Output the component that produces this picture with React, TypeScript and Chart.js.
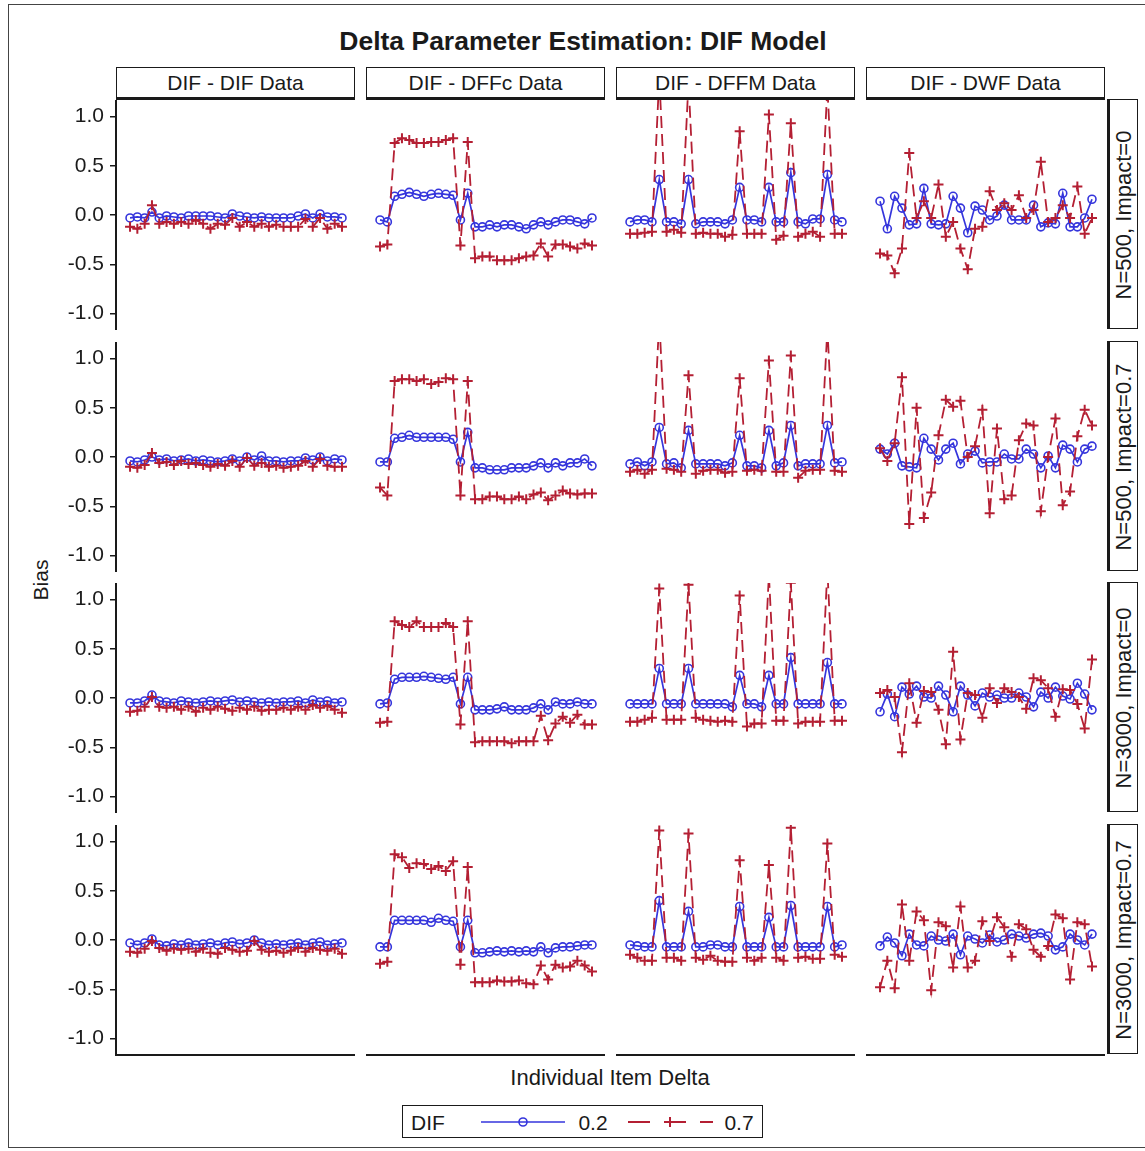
import React, { useEffect, useRef } from "react";
import { Chart, registerables } from "chart.js";

Chart.register(...registerables);

// ---- data -----------------------------------------------------------------

const ITEMS = [1, 2, 3, 4, 5, 6, 7, 8, 9, 10, 11, 12, 13, 14, 15, 16, 17, 18, 19, 20, 21, 22, 23, 24, 25, 26, 27, 28, 29, 30];

const COLUMNS = ["DIF - DIF Data", "DIF - DFFc Data", "DIF - DFFM Data", "DIF - DWF Data"];
const ROWS = ["N=500, Impact=0", "N=500, Impact=0.7", "N=3000, Impact=0", "N=3000, Impact=0.7"];
const Y_TICKS = [-1, -0.5, 0, 0.5, 1];
const LEGEND_TITLE = "DIF";
const SERIES_NAMES = ["0.2", "0.7"];

// N=500, Impact=0
const N500_I0_DIF_02 = [-0.03, -0.02, -0.03, 0.03, -0.03, -0.01, -0.02, -0.03, -0.01, -0.01, -0.01, -0.01, -0.02, -0.03, 0.01, -0.01, -0.02, -0.03, -0.02, -0.03, -0.03, -0.03, -0.03, -0.01, 0.01, -0.03, 0.01, -0.02, -0.02, -0.03];
const N500_I0_DIF_07 = [-0.12, -0.14, -0.09, 0.10, -0.09, -0.07, -0.09, -0.07, -0.09, -0.05, -0.09, -0.14, -0.09, -0.10, -0.03, -0.12, -0.07, -0.12, -0.09, -0.12, -0.10, -0.12, -0.12, -0.12, -0.04, -0.12, -0.03, -0.14, -0.09, -0.12];
const N500_I0_DFFC_02 = [-0.05, -0.07, 0.19, 0.21, 0.23, 0.21, 0.19, 0.21, 0.22, 0.21, 0.20, -0.05, 0.22, -0.12, -0.12, -0.10, -0.12, -0.10, -0.10, -0.12, -0.14, -0.10, -0.07, -0.10, -0.07, -0.05, -0.05, -0.07, -0.09, -0.03];
const N500_I0_DFFC_07 = [-0.32, -0.30, 0.73, 0.78, 0.76, 0.73, 0.73, 0.74, 0.74, 0.76, 0.78, -0.31, 0.74, -0.44, -0.42, -0.42, -0.46, -0.46, -0.46, -0.44, -0.42, -0.41, -0.29, -0.42, -0.30, -0.30, -0.32, -0.34, -0.29, -0.31];
const N500_I0_DFFM_02 = [-0.07, -0.05, -0.05, -0.07, 0.36, -0.07, -0.07, -0.09, 0.36, -0.09, -0.07, -0.07, -0.07, -0.09, -0.05, 0.28, -0.05, -0.05, -0.07, 0.28, -0.07, -0.07, 0.43, -0.07, -0.09, -0.04, -0.04, 0.41, -0.05, -0.07];
const N500_I0_DFFM_07 = [-0.19, -0.19, -0.18, -0.17, 1.40, -0.17, -0.15, -0.18, 1.35, -0.19, -0.18, -0.19, -0.19, -0.22, -0.20, 0.85, -0.19, -0.19, -0.19, 1.02, -0.25, -0.21, 0.93, -0.22, -0.19, -0.17, -0.22, 1.30, -0.19, -0.19];
const N500_I0_DWF_02 = [0.14, -0.14, 0.19, 0.07, -0.10, -0.09, 0.27, -0.09, -0.10, -0.09, 0.19, 0.07, -0.18, 0.09, 0.05, -0.05, -0.01, 0.10, -0.05, -0.05, -0.05, 0.10, -0.12, -0.08, -0.09, 0.22, -0.12, -0.12, -0.03, 0.16];
const N500_I0_DWF_07 = [-0.39, -0.41, -0.59, -0.34, 0.63, -0.03, 0.14, -0.03, 0.31, -0.22, -0.07, -0.34, -0.55, -0.14, -0.12, 0.24, 0.05, 0.12, 0.05, 0.20, -0.03, 0.05, 0.54, -0.07, -0.03, 0.10, -0.03, 0.29, -0.19, -0.03];

// N=500, Impact=0.7
const N500_I07_DIF_02 = [-0.04, -0.05, -0.03, 0.00, -0.03, -0.02, -0.04, -0.03, -0.02, -0.04, -0.03, -0.04, -0.05, -0.04, -0.02, -0.04, 0.00, -0.03, 0.01, -0.04, -0.04, -0.05, -0.04, -0.04, -0.01, -0.03, 0.00, -0.04, -0.02, -0.03];
const N500_I07_DIF_07 = [-0.10, -0.11, -0.08, 0.04, -0.06, -0.05, -0.08, -0.04, -0.07, -0.06, -0.08, -0.10, -0.07, -0.09, -0.04, -0.10, -0.01, -0.09, -0.06, -0.10, -0.09, -0.11, -0.10, -0.09, -0.04, -0.10, -0.02, -0.09, -0.10, -0.10];
const N500_I07_DFFC_02 = [-0.05, -0.05, 0.19, 0.20, 0.22, 0.20, 0.20, 0.20, 0.20, 0.20, 0.18, -0.05, 0.25, -0.11, -0.11, -0.13, -0.13, -0.13, -0.11, -0.11, -0.11, -0.09, -0.06, -0.11, -0.06, -0.09, -0.06, -0.06, -0.02, -0.09];
const N500_I07_DFFC_07 = [-0.31, -0.39, 0.77, 0.79, 0.79, 0.77, 0.79, 0.74, 0.76, 0.80, 0.79, -0.39, 0.77, -0.43, -0.43, -0.40, -0.40, -0.43, -0.43, -0.40, -0.43, -0.38, -0.36, -0.44, -0.39, -0.34, -0.37, -0.38, -0.37, -0.37];
const N500_I07_DFFM_02 = [-0.07, -0.05, -0.09, -0.05, 0.30, -0.07, -0.06, -0.11, 0.27, -0.07, -0.07, -0.07, -0.07, -0.09, -0.06, 0.22, -0.09, -0.09, -0.11, 0.27, -0.09, -0.06, 0.32, -0.09, -0.07, -0.07, -0.07, 0.32, -0.06, -0.05];
const N500_I07_DFFM_07 = [-0.15, -0.13, -0.17, -0.13, 1.40, -0.12, -0.13, -0.15, 0.83, -0.17, -0.14, -0.13, -0.13, -0.16, -0.15, 0.80, -0.14, -0.13, -0.14, 0.98, -0.15, -0.15, 1.03, -0.21, -0.14, -0.13, -0.13, 1.30, -0.14, -0.15];
const N500_I07_DWF_02 = [0.08, 0.03, 0.14, -0.09, -0.10, -0.11, 0.19, 0.08, -0.03, 0.08, 0.14, -0.07, 0.03, 0.06, -0.06, -0.05, -0.05, 0.03, -0.02, -0.02, 0.08, 0.03, -0.11, 0.01, -0.11, 0.12, 0.08, -0.05, 0.08, 0.11];
const N500_I07_DWF_07 = [0.09, -0.04, 0.14, 0.81, -0.68, 0.50, -0.62, -0.36, 0.22, 0.58, 0.51, 0.57, 0.00, 0.11, 0.48, -0.57, 0.29, -0.43, -0.39, 0.17, 0.34, 0.32, -0.55, 0.00, 0.39, -0.49, -0.35, 0.21, 0.48, 0.32];

// N=3000, Impact=0
const N3000_I0_DIF_02 = [-0.05, -0.05, -0.03, 0.03, -0.03, -0.04, -0.05, -0.03, -0.04, -0.05, -0.04, -0.03, -0.04, -0.03, -0.02, -0.04, -0.03, -0.04, -0.05, -0.04, -0.05, -0.04, -0.04, -0.03, -0.05, -0.02, -0.04, -0.03, -0.05, -0.04];
const N3000_I0_DIF_07 = [-0.14, -0.13, -0.09, 0.01, -0.09, -0.10, -0.09, -0.12, -0.09, -0.14, -0.10, -0.12, -0.09, -0.11, -0.13, -0.10, -0.12, -0.09, -0.13, -0.12, -0.12, -0.10, -0.12, -0.09, -0.12, -0.07, -0.10, -0.08, -0.12, -0.15];
const N3000_I0_DFFC_02 = [-0.06, -0.05, 0.19, 0.21, 0.21, 0.21, 0.22, 0.21, 0.20, 0.19, 0.21, -0.06, 0.21, -0.12, -0.12, -0.12, -0.11, -0.09, -0.12, -0.12, -0.12, -0.10, -0.06, -0.12, -0.04, -0.06, -0.06, -0.04, -0.06, -0.06];
const N3000_I0_DFFC_07 = [-0.25, -0.24, 0.78, 0.74, 0.72, 0.78, 0.72, 0.72, 0.72, 0.76, 0.72, -0.27, 0.78, -0.45, -0.44, -0.44, -0.44, -0.44, -0.46, -0.44, -0.44, -0.44, -0.18, -0.43, -0.26, -0.19, -0.25, -0.17, -0.27, -0.27];
const N3000_I0_DFFM_02 = [-0.06, -0.06, -0.06, -0.06, 0.30, -0.06, -0.06, -0.06, 0.30, -0.06, -0.06, -0.06, -0.06, -0.06, -0.09, 0.23, -0.06, -0.06, -0.09, 0.23, -0.06, -0.06, 0.41, -0.06, -0.06, -0.06, -0.06, 0.36, -0.06, -0.06];
const N3000_I0_DFFM_07 = [-0.24, -0.24, -0.22, -0.20, 1.11, -0.22, -0.22, -0.22, 1.15, -0.20, -0.22, -0.23, -0.24, -0.23, -0.24, 1.04, -0.29, -0.26, -0.26, 1.25, -0.23, -0.23, 1.17, -0.26, -0.24, -0.24, -0.24, 1.30, -0.23, -0.23];
const N3000_I0_DWF_02 = [-0.14, 0.04, -0.19, 0.11, 0.04, 0.12, 0.01, 0.00, 0.12, 0.03, -0.14, 0.12, 0.03, -0.08, 0.05, 0.01, 0.03, 0.00, 0.00, 0.05, 0.01, -0.09, 0.06, 0.00, 0.11, 0.02, -0.01, 0.15, 0.04, -0.12];
const N3000_I0_DWF_07 = [0.05, 0.08, 0.01, -0.55, 0.15, -0.25, 0.07, 0.06, -0.12, -0.47, 0.47, -0.42, 0.05, 0.03, -0.20, 0.10, -0.05, 0.10, 0.06, 0.01, -0.11, 0.20, 0.18, 0.10, -0.19, 0.09, 0.08, -0.06, -0.31, 0.39];

// N=3000, Impact=0.7
const N3000_I07_DIF_02 = [-0.03, -0.05, -0.03, 0.01, -0.05, -0.06, -0.04, -0.05, -0.03, -0.05, -0.04, -0.03, -0.05, -0.03, -0.02, -0.04, -0.03, 0.00, -0.03, -0.05, -0.04, -0.05, -0.04, -0.03, -0.05, -0.03, -0.02, -0.05, -0.04, -0.03];
const N3000_I07_DIF_07 = [-0.12, -0.13, -0.09, -0.01, -0.08, -0.11, -0.09, -0.10, -0.09, -0.12, -0.09, -0.13, -0.14, -0.08, -0.10, -0.12, -0.11, -0.01, -0.10, -0.12, -0.11, -0.13, -0.11, -0.08, -0.12, -0.08, -0.10, -0.11, -0.09, -0.14];
const N3000_I07_DFFC_02 = [-0.07, -0.07, 0.20, 0.20, 0.20, 0.20, 0.20, 0.18, 0.22, 0.20, 0.19, -0.07, 0.20, -0.13, -0.13, -0.12, -0.11, -0.12, -0.11, -0.12, -0.11, -0.12, -0.07, -0.13, -0.08, -0.07, -0.07, -0.06, -0.05, -0.05];
const N3000_I07_DFFC_07 = [-0.24, -0.22, 0.87, 0.84, 0.73, 0.78, 0.77, 0.72, 0.75, 0.70, 0.80, -0.25, 0.74, -0.43, -0.43, -0.43, -0.41, -0.42, -0.42, -0.41, -0.44, -0.45, -0.26, -0.40, -0.25, -0.28, -0.27, -0.21, -0.26, -0.32];
const N3000_I07_DFFM_02 = [-0.05, -0.06, -0.07, -0.07, 0.40, -0.07, -0.07, -0.07, 0.29, -0.07, -0.07, -0.05, -0.05, -0.07, -0.07, 0.34, -0.07, -0.07, -0.07, 0.23, -0.07, -0.07, 0.35, -0.07, -0.07, -0.07, -0.07, 0.34, -0.07, -0.05];
const N3000_I07_DFFM_07 = [-0.15, -0.18, -0.21, -0.21, 1.11, -0.18, -0.18, -0.21, 1.08, -0.18, -0.20, -0.16, -0.21, -0.22, -0.22, 0.81, -0.18, -0.21, -0.18, 0.76, -0.18, -0.21, 1.14, -0.18, -0.17, -0.19, -0.19, 0.98, -0.15, -0.17];
const N3000_I07_DWF_02 = [-0.06, 0.03, -0.03, -0.16, 0.06, -0.05, -0.06, 0.04, 0.00, -0.01, 0.06, -0.15, 0.04, 0.01, -0.03, 0.05, -0.02, 0.00, 0.06, 0.04, 0.02, 0.06, 0.07, 0.04, -0.10, -0.07, 0.06, 0.00, -0.05, 0.06];
const N3000_I07_DWF_07 = [-0.48, -0.21, -0.49, 0.36, -0.21, 0.29, 0.20, -0.51, 0.18, 0.14, -0.28, 0.34, -0.28, -0.21, 0.19, -0.01, 0.23, 0.13, -0.17, 0.16, 0.11, -0.10, -0.17, -0.06, 0.26, 0.22, -0.40, 0.18, 0.16, -0.27];

// [row][column] -> [DIF=0.2, DIF=0.7]
const GRID: number[][][][] = [
  [[N500_I0_DIF_02, N500_I0_DIF_07], [N500_I0_DFFC_02, N500_I0_DFFC_07], [N500_I0_DFFM_02, N500_I0_DFFM_07], [N500_I0_DWF_02, N500_I0_DWF_07]],
  [[N500_I07_DIF_02, N500_I07_DIF_07], [N500_I07_DFFC_02, N500_I07_DFFC_07], [N500_I07_DFFM_02, N500_I07_DFFM_07], [N500_I07_DWF_02, N500_I07_DWF_07]],
  [[N3000_I0_DIF_02, N3000_I0_DIF_07], [N3000_I0_DFFC_02, N3000_I0_DFFC_07], [N3000_I0_DFFM_02, N3000_I0_DFFM_07], [N3000_I0_DWF_02, N3000_I0_DWF_07]],
  [[N3000_I07_DIF_02, N3000_I07_DIF_07], [N3000_I07_DFFC_02, N3000_I07_DFFC_07], [N3000_I07_DFFM_02, N3000_I07_DFFM_07], [N3000_I07_DWF_02, N3000_I07_DWF_07]],
];

// ---- styling / layout -----------------------------------------------------

const FONT = "'Liberation Sans', Arial, sans-serif";
const BLUE = "#3535dc";
const RED = "#b41f33";
const INK = "#1a1a1a";

const PANEL_LEFT = 116;
const PANEL_W = 239;
const COL_PITCH = 250;
const PANEL_TOP = 100;
const PANEL_H = 230;
const ROW_PITCH = 241.5;
const Y_AXIS_W = 60;
const X_AXIS_H = 3;

const X_MIN = -0.92;
const X_MAX = 31.78;
const Y_MIN = -1.167;
const Y_MAX = 1.167;

type PanelProps = {
  low: number[];
  high: number[];
  left: number;
  top: number;
  withY: boolean;
  withX: boolean;
};

function Panel({ low, high, left, top, withY, withX }: PanelProps) {
  const ref = useRef<HTMLCanvasElement | null>(null);
  const width = PANEL_W + (withY ? Y_AXIS_W : 0);
  const height = PANEL_H + (withX ? X_AXIS_H : 0);

  useEffect(() => {
    if (!ref.current) return;
    const chart = new Chart(ref.current, {
      type: "line",
      data: {
        datasets: [
          {
            label: SERIES_NAMES[1],
            data: high.map((v, i) => ({ x: ITEMS[i], y: v })),
            borderColor: RED,
            borderWidth: 1.8,
            borderDash: [12, 6],
            tension: 0,
            pointStyle: "cross",
            pointRadius: 5,
            pointBorderWidth: 2,
            pointBorderColor: RED,
            pointBackgroundColor: RED,
          },
          {
            label: SERIES_NAMES[0],
            data: low.map((v, i) => ({ x: ITEMS[i], y: v })),
            borderColor: BLUE,
            borderWidth: 1.7,
            tension: 0,
            pointStyle: "circle",
            pointRadius: 4,
            pointBorderWidth: 1.6,
            pointBorderColor: BLUE,
            pointBackgroundColor: "rgba(255,255,255,0)",
          },
        ],
      },
      options: {
        animation: false,
        responsive: false,
        devicePixelRatio: 1,
        events: [],
        layout: { padding: 0, autoPadding: false },
        plugins: { legend: { display: false }, tooltip: { enabled: false } },
        scales: {
          x: {
            type: "linear",
            min: X_MIN,
            max: X_MAX,
            display: withX,
            grid: { display: false },
            ticks: { display: false },
            border: { display: true, color: INK, width: 2 },
            afterFit: (s: any) => {
              if (withX) s.height = X_AXIS_H;
              s.paddingLeft = 0;
              s.paddingRight = 0;
            },
          },
          y: {
            type: "linear",
            min: Y_MIN,
            max: Y_MAX,
            display: withY,
            afterBuildTicks: (s: any) => {
              s.ticks = Y_TICKS.map((v) => ({ value: v }));
            },
            ticks: {
              callback: (v: any) => Number(v).toFixed(1),
              font: { family: FONT, size: 21 },
              color: INK,
              padding: 6,
            },
            grid: { drawOnChartArea: false, drawTicks: true, tickLength: 6, color: INK, lineWidth: 1.5 },
            border: { display: true, color: INK, width: 2 },
            afterFit: (s: any) => {
              if (withY) s.width = Y_AXIS_W;
              s.paddingTop = 0;
              s.paddingBottom = 0;
            },
          },
        },
      },
    } as any);
    return () => chart.destroy();
  }, [low, high, withX, withY]);

  return (
    <canvas
      ref={ref}
      width={width}
      height={height}
      style={{ position: "absolute", left: left - (withY ? Y_AXIS_W : 0), top, width, height }}
    />
  );
}

function Text({ x, y, children, style }: { x: number; y: number; children: React.ReactNode; style?: React.CSSProperties }) {
  return (
    <div
      style={{
        position: "absolute",
        left: x,
        top: y,
        transform: "translate(-50%, -50%)",
        whiteSpace: "nowrap",
        fontFamily: FONT,
        color: INK,
        lineHeight: 1,
        ...style,
      }}
    >
      {children}
    </div>
  );
}

export default function App() {
  const rowTop = (r: number) => Math.round(PANEL_TOP + ROW_PITCH * r);
  const colLeft = (c: number) => PANEL_LEFT + COL_PITCH * c;

  return (
    <div style={{ position: "absolute", left: 0, top: 0, width: 1145, height: 1151, background: "#fff", overflow: "hidden" }}>
      {/* outer frame */}
      <div style={{ position: "absolute", left: 8, top: 4, width: 1150, height: 1144, border: "1px solid #444", boxSizing: "border-box" }} />

      <Text x={583} y={41} style={{ fontWeight: "bold", fontSize: 26.5 }}>
        Delta Parameter Estimation: DIF Model
      </Text>

      {/* column headers */}
      {COLUMNS.map((name, c) => (
        <div
          key={name}
          style={{
            position: "absolute",
            left: colLeft(c),
            top: 67,
            width: PANEL_W,
            height: 33,
            boxSizing: "border-box",
            borderTop: `1.5px solid ${INK}`,
            borderLeft: `1.5px solid ${INK}`,
            borderRight: `1.5px solid ${INK}`,
            borderBottom: `3px solid ${INK}`,
            display: "flex",
            alignItems: "center",
            justifyContent: "center",
            fontFamily: FONT,
            fontSize: 21,
            color: INK,
          }}
        >
          {name}
        </div>
      ))}

      {/* row strips */}
      {ROWS.map((name, r) => (
        <div
          key={name}
          style={{
            position: "absolute",
            left: 1107,
            top: rowTop(r) - 1,
            width: 31,
            height: PANEL_H,
            boxSizing: "border-box",
            borderTop: `1.5px solid ${INK}`,
            borderRight: `1.5px solid ${INK}`,
            borderBottom: `1.5px solid ${INK}`,
            borderLeft: `3px solid ${INK}`,
          }}
        >
          <Text x={14} y={PANEL_H / 2} style={{ fontSize: 22, transform: "translate(-50%, -50%) rotate(-90deg)" }}>
            {name}
          </Text>
        </div>
      ))}

      {/* panels */}
      {GRID.map((row, r) =>
        row.map((pair, c) => (
          <Panel
            key={`${r}-${c}`}
            low={pair[0]}
            high={pair[1]}
            left={colLeft(c)}
            top={rowTop(r)}
            withY={c === 0}
            withX={r === GRID.length - 1}
          />
        ))
      )}

      <Text x={40} y={580} style={{ fontSize: 21, transform: "translate(-50%, -50%) rotate(-90deg)" }}>
        Bias
      </Text>
      <Text x={610} y={1078} style={{ fontSize: 22 }}>
        Individual Item Delta
      </Text>

      {/* legend */}
      <div
        style={{
          position: "absolute",
          left: 402,
          top: 1105,
          width: 361,
          height: 33,
          boxSizing: "border-box",
          border: `1.5px solid ${INK}`,
        }}
      >
        <Text x={25} y={16} style={{ fontSize: 21 }}>
          {LEGEND_TITLE}
        </Text>
        <svg width={361} height={33} style={{ position: "absolute", left: -1.5, top: -1.5 }}>
          <line x1={79} y1={17} x2={163} y2={17} stroke={BLUE} strokeWidth={1.7} />
          <circle cx={121} cy={17} r={4} fill="none" stroke={BLUE} strokeWidth={1.6} />
          <line x1={226} y1={17} x2={311} y2={17} stroke={RED} strokeWidth={1.8} strokeDasharray="22 14" />
          <line x1={263} y1={17} x2={273} y2={17} stroke={RED} strokeWidth={2} />
          <line x1={268} y1={12} x2={268} y2={22} stroke={RED} strokeWidth={2} />
        </svg>
        <Text x={190} y={16} style={{ fontSize: 21 }}>
          {SERIES_NAMES[0]}
        </Text>
        <Text x={336} y={16} style={{ fontSize: 21 }}>
          {SERIES_NAMES[1]}
        </Text>
      </div>
    </div>
  );
}
